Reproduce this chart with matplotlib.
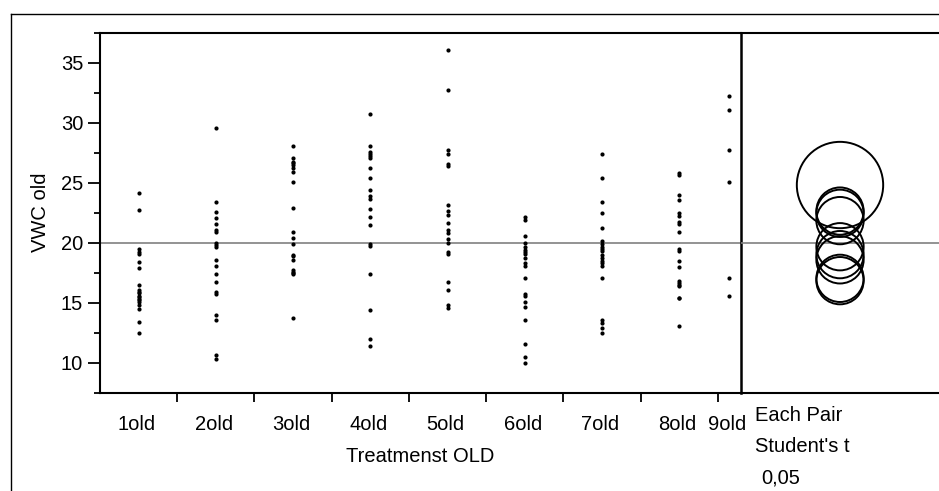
import matplotlib
matplotlib.use("Agg")
import matplotlib.pyplot as plt
from matplotlib.patches import Circle
from matplotlib.lines import Line2D
import numpy as np

plt.rcParams['font.family'] = ['Liberation Sans', 'DejaVu Sans']

# Soil moisture (VWC) per treatment
treatments = ["1old", "2old", "3old", "4old", "5old", "6old", "7old", "8old", "9old"]

vwc_1old = [24.1, 22.74, 19.45, 19.25, 19.09, 18.43, 17.93, 16.44, 16.02, 15.9,
            15.77, 15.6, 15.44, 15.27, 15.2, 15.02, 14.78, 14.44, 13.4, 12.45]
vwc_2old = [29.57, 23.4, 22.57, 22.07, 21.58, 21.08, 20.91, 19.95, 19.78, 19.62,
            18.59, 18.09, 17.4, 16.74, 15.91, 15.75, 13.95, 13.56, 10.63, 10.3]
vwc_3old = [28.08, 27.08, 26.72, 26.6, 26.44, 26.25, 25.89, 25.06, 22.9, 20.91,
            20.41, 19.92, 19.0, 18.92, 18.59, 17.76, 17.6, 17.5, 17.43, 13.73]
vwc_4old = [30.73, 28.05, 27.55, 27.35, 27.19, 27.02, 26.25, 25.42, 24.43, 23.93,
            23.6, 22.77, 22.1, 21.44, 19.87, 19.75, 17.4, 14.42, 11.99, 11.43]
vwc_5old = [36.06, 32.72, 27.74, 27.41, 26.58, 26.39, 23.1, 22.6, 22.27, 21.61,
            21.05, 20.78, 20.28, 19.95, 19.25, 19.04, 16.74, 16.08, 14.78, 14.53]
vwc_6old = [22.1, 21.88, 20.58, 19.95, 19.67, 19.4, 19.2, 19.04, 18.76, 18.29,
            18.09, 17.1, 15.75, 15.52, 15.06, 14.61, 13.59, 11.6, 10.46, 9.94]
vwc_7old = [27.41, 25.42, 23.4, 22.44, 21.24, 20.11, 19.87, 19.62, 19.45, 19.3,
            18.96, 18.7, 18.46, 18.29, 18.09, 17.1, 13.6, 13.3, 12.9, 12.45]
vwc_8old = [25.8, 25.61, 23.96, 23.54, 22.44, 22.21, 21.72, 21.58, 20.91, 19.5,
            19.34, 18.46, 17.96, 16.8, 16.63, 16.5, 16.41, 15.41, 15.4, 13.1]
vwc_9old = [32.25, 31.09, 27.74, 25.06, 17.1, 15.6]

groups = [vwc_1old, vwc_2old, vwc_3old, vwc_4old, vwc_5old,
          vwc_6old, vwc_7old, vwc_8old, vwc_9old]

T_CRIT = 1.975  # Student's t, alpha 0.05, two sided, df ~ 157

W, H = 939, 491
FS = 14.5


def px_box(x0, y0, x1, y1):
    """axes rectangle from pixel corners (origin top-left)"""
    return [x0 / W, 1 - y1 / H, (x1 - x0) / W, (y1 - y0) / H]


fig = plt.figure(figsize=(W / 100, H / 100), dpi=100)
ax = fig.add_axes(px_box(100, 32.7, 741, 392.7))
ax_c = fig.add_axes(px_box(741, 32.7, 939, 392.7))
ax_c.patch.set_visible(False)

# group widths proportional to sample size
n = np.array([len(g) for g in groups])
edges = np.concatenate([[0], np.cumsum(n)])
centers = (edges[:-1] + edges[1:]) / 2

for c, g in zip(centers, groups):
    ax.plot(np.full(len(g), c), g, 'o', color='black', ms=3.0, mec='none')

all_vals = np.concatenate(groups)
grand_mean = all_vals.mean()
ax.axhline(grand_mean, color='#808080', lw=1.2, zorder=0)
ax_c.axhline(grand_mean, color='#808080', lw=1.2, zorder=0)

ylo, yhi = 7.5, 37.5
ax.set_xlim(0, edges[-1])
ax.set_ylim(ylo, yhi)
ax.set_yticks(np.arange(10, 36, 5))
ax.set_yticks(np.arange(7.5, 37.6, 5), minor=True)
ax.set_xticks(centers - 0.5, treatments)
ax.set_xticks(edges[1:-1], minor=True)
ax.tick_params(axis='y', which='major', length=8.6, width=1.3, pad=3.5, labelsize=FS)
ax.tick_params(axis='y', which='minor', length=4.3, width=1.3)
ax.tick_params(axis='x', which='major', length=0, pad=16, labelsize=FS)
ax.tick_params(axis='x', which='minor', length=6.5, width=1.3)
ax.set_ylabel("VWC old", fontsize=FS, labelpad=8)
ax.set_xlabel("Treatmenst OLD", fontsize=FS, labelpad=9.5)
for s in ax.spines.values():
    s.set_linewidth(1.5)
ax.spines['right'].set_linewidth(1.8)

# comparison circles (Each Pair, Student's t)
pooled = sum(((np.array(g) - np.mean(g)) ** 2).sum() for g in groups)
mse = pooled / (len(all_vals) - len(groups))
radii = T_CRIT * np.sqrt(mse / n)

bw = (939 - 741) / (392.7 - 32.7) * (yhi - ylo)
ax_c.set_xlim(0, bw)
ax_c.set_ylim(ylo, yhi)
ax_c.set_xticks([])
ax_c.set_yticks([])
ax_c.spines['right'].set_visible(False)
ax_c.spines['left'].set_visible(False)
for s in ax_c.spines.values():
    s.set_linewidth(1.5)
for g, r in zip(groups, radii):
    ax_c.add_patch(Circle((bw / 2, np.mean(g)), r, fill=False, ec='black', lw=1.4))

fig.text(755 / W, 1 - 421 / H, "Each Pair", fontsize=FS, va='baseline')
fig.text(755 / W, 1 - 452 / H, "Student's t", fontsize=FS, va='baseline')
fig.text(761 / W, 1 - 483 / H, "0,05", fontsize=FS, va='baseline')

# outer frame
fig.add_artist(Line2D([11 / W, 11 / W], [0, 1 - 14 / H], color='black', lw=1))
fig.add_artist(Line2D([11 / W, 1], [1 - 14 / H, 1 - 14 / H], color='black', lw=1))

fig.savefig("out.png", dpi=100)
